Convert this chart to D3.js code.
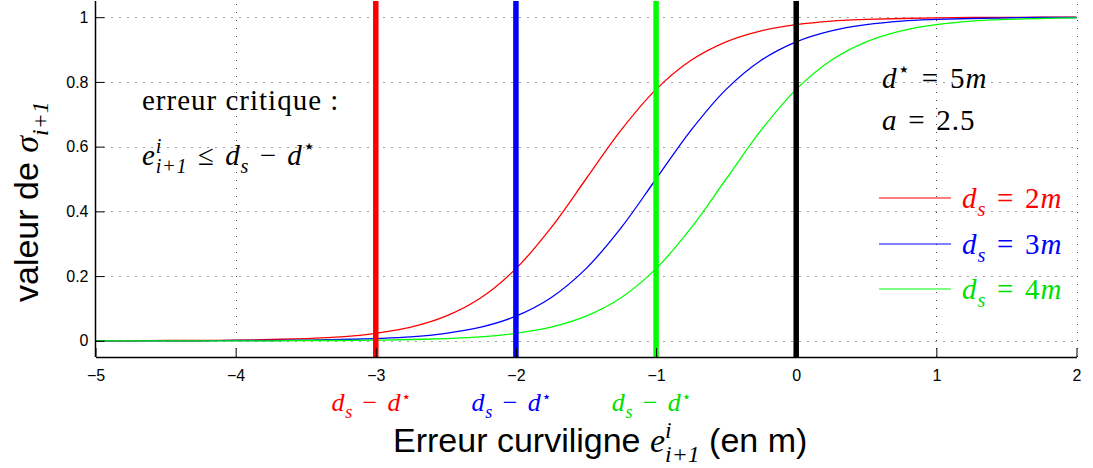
<!DOCTYPE html>
<html>
<head>
<meta charset="utf-8">
<script src="https://cdn.jsdelivr.net/npm/d3@7"></script>
<style>
  body { margin: 0; background: #fff; }
  svg { display: block; }
</style>
</head>
<body>
<div class="chart"></div>
<script>
const FRAME_WIDTH = 1093;
const FRAME_HEIGHT = 468;
const PLOT = {left: 95.5, right: 1076.5, top: 1, bottom: 357};

// abscisses (pas de 0.25 m)
const xs = [-5, -4.75, -4.5, -4.25, -4, -3.75, -3.5, -3.25, -3, -2.75, -2.5, -2.25,
            -2, -1.75, -1.5, -1.25, -1, -0.75, -0.5, -0.25, 0, 0.25, 0.5, 0.75,
            1, 1.25, 1.5, 1.75, 2];

// valeurs de sigma lues pour chaque d_s
const sigma2m = [0.000, 0.000, 0.001, 0.001, 0.002, 0.004, 0.007, 0.012, 0.023, 0.042,
                 0.076, 0.133, 0.223, 0.349, 0.500, 0.651, 0.777, 0.867, 0.924, 0.958,
                 0.977, 0.988, 0.993, 0.996, 0.998, 0.999, 0.999, 1.000, 1.000];
const sigma3m = [0.000, 0.000, 0.000, 0.000, 0.001, 0.001, 0.002, 0.004, 0.007, 0.012,
                 0.023, 0.042, 0.076, 0.133, 0.223, 0.349, 0.500, 0.651, 0.777, 0.867,
                 0.924, 0.958, 0.977, 0.988, 0.993, 0.996, 0.998, 0.999, 0.999];
const sigma4m = [0.000, 0.000, 0.000, 0.000, 0.000, 0.000, 0.001, 0.001, 0.002, 0.004,
                 0.007, 0.012, 0.023, 0.042, 0.076, 0.133, 0.223, 0.349, 0.500, 0.651,
                 0.777, 0.867, 0.924, 0.958, 0.977, 0.988, 0.993, 0.996, 0.998];

const seriesNames = ["2m", "3m", "4m"];
const seriesColors = ["#ff0000", "#0000ff", "#00ff00"];
const textColors = ["#ff0000", "#0000ff", "#00e000"];

// seuils d_s - d* et origine
const thresholds = [-3, -2, -1, 0];
const thresholdColors = ["#ff0000", "#0000ff", "#00ff00", "#000000"];

const xTicks = [-5, -4, -3, -2, -1, 0, 1, 2];
const yTicks = [0, 0.2, 0.4, 0.6, 0.8, 1];

const SERIF = "'Liberation Serif', 'DejaVu Serif', serif";
const SANS = "'Liberation Sans', Arial, sans-serif";
const STAR = "'DejaVu Sans', sans-serif";
const SP = "\u2004";   // espace autour des relations

const svg = d3.select(".chart")
              .append("svg")
              .attr("width", FRAME_WIDTH)
              .attr("height", FRAME_HEIGHT);

svg.append("rect")
   .attr("width", FRAME_WIDTH)
   .attr("height", FRAME_HEIGHT)
   .attr("fill", "#fff");

const X_SCALE = d3.scaleLinear().domain([-5, 2]).range([PLOT.left, PLOT.right]);
const Y_SCALE = d3.scaleLinear().domain([-0.05, 1.05]).range([PLOT.bottom, PLOT.top]);

// grille pointillee
const grid = svg.append("g")
                .attr("stroke", "#444")
                .attr("stroke-width", 1)
                .attr("stroke-dasharray", "1,7");

grid.selectAll(".vgrid")
    .data(xTicks.slice(1))
    .enter()
    .append("line")
      .attr("x1", d => Math.round(X_SCALE(d)) + 0.5)
      .attr("x2", d => Math.round(X_SCALE(d)) + 0.5)
      .attr("y1", PLOT.bottom)
      .attr("y2", PLOT.top);

grid.selectAll(".hgrid")
    .data(yTicks)
    .enter()
    .append("line")
      .attr("x1", PLOT.left)
      .attr("x2", PLOT.right)
      .attr("y1", d => Math.round(Y_SCALE(d)) + 0.5)
      .attr("y2", d => Math.round(Y_SCALE(d)) + 0.5);

// courbes
const line = d3.line()
               .x(d => X_SCALE(d[0]))
               .y(d => Y_SCALE(d[1]))
               .curve(d3.curveCatmullRom);

[sigma2m, sigma3m, sigma4m].forEach((vals, i) => {
    svg.append("path")
       .datum(xs.map((x, j) => [x, vals[j]]))
       .attr("d", line)
       .attr("fill", "none")
       .attr("stroke", seriesColors[i])
       .attr("stroke-width", 1.3);
});

// traits verticaux epais
svg.selectAll(".seuil")
   .data(thresholds)
   .enter()
   .append("line")
     .attr("x1", d => X_SCALE(d))
     .attr("x2", d => X_SCALE(d))
     .attr("y1", PLOT.top)
     .attr("y2", PLOT.bottom)
     .attr("stroke", (d, i) => thresholdColors[i])
     .attr("stroke-width", 5.5);

// axes
const xAxis = svg.append("g")
    .attr("transform", "translate(0," + PLOT.bottom + ")")
    .call(d3.axisBottom(X_SCALE).tickValues(xTicks).tickSizeInner(-9).tickSizeOuter(0)
          .tickPadding(13).tickFormat(d3.format("d")));

const yAxis = svg.append("g")
    .attr("transform", "translate(" + PLOT.left + ",0)")
    .call(d3.axisLeft(Y_SCALE).tickValues(yTicks).tickSizeInner(-9).tickSizeOuter(0)
          .tickPadding(7).tickFormat(d3.format("~g")));

[xAxis, yAxis].forEach(ax => {
    ax.attr("font-family", SANS).attr("font-size", 16);
    ax.selectAll("text").attr("fill", "#000");
    ax.selectAll("line").attr("stroke", "#000");
    ax.select(".domain").attr("stroke", "#000").attr("stroke-width", 1.5);
});
yAxis.select(".domain").attr("d", "M0," + PLOT.top + "V" + PLOT.bottom);

// texte mathematique : morceaux {t, it, pos (1 exposant, -1 indice, 2 petite etoile), back, f}
function mathText(parent, x, y, size, color, pieces, anchor, spacing) {
    const txt = parent.append("text")
                      .attr("x", x)
                      .attr("y", y)
                      .attr("fill", color)
                      .attr("font-size", size)
                      .attr("font-family", SERIF)
                      .attr("letter-spacing", spacing || 0)
                      .attr("text-anchor", anchor || "start");
    let shift = 0;
    let lastLen = 0;
    pieces.forEach(p => {
        const pos = p.pos || 0;
        const target = pos === 1 ? -0.42 * size
                     : pos === 2 ? -0.36 * size
                     : pos === -1 ? 0.28 * size : 0;
        const fs = pos === 0 ? size : (pos === 2 ? size * 0.62 : size * 0.7);
        const ts = txt.append("tspan")
                      .attr("dy", target - shift)
                      .attr("font-size", fs)
                      .attr("font-style", p.it ? "italic" : "normal")
                      .text(p.t);
        if (p.f) ts.attr("font-family", p.f);
        if (p.back) ts.attr("dx", -lastLen);
        shift = target;
        lastLen = ts.node().getComputedTextLength();
    });
    return txt;
}

const dStar = [{t: "d", it: true}, {t: "\u22C6", pos: 1, f: STAR}];
const dStarLow = [{t: "d", it: true}, {t: "\u22C6", pos: 2, f: STAR}];
const dsMinus = [{t: "d", it: true}, {t: "s", it: true, pos: -1},
                 {t: SP + "\u2212" + SP}];

thresholds.slice(0, 3).forEach((v, i) => {
    mathText(svg, X_SCALE(v) - 4, 411, 26, textColors[i], dsMinus.concat(dStarLow), "middle", 0.8);
});

// titres des axes
mathText(svg, 393, 452, 34, "#000", [
    {t: "Erreur curviligne ", f: SANS},
    {t: "e", it: true},
    {t: "i", it: true, pos: 1},
    {t: "i+1", it: true, pos: -1, back: true},
    {t: " (en m)", f: SANS}
], "start");

const yLab = svg.append("g")
                .attr("transform", "translate(38,302) rotate(-90)");
mathText(yLab, 0, 0, 34, "#000", [
    {t: "valeur de ", f: SANS},
    {t: "\u03C3", it: true},
    {t: "i+1", it: true, pos: -1}
], "start");

// annotations
mathText(svg, 142, 110, 29, "#000", [{t: "erreur critique :"}], "start", 1);
mathText(svg, 142, 165, 29, "#000", [
    {t: "e", it: true},
    {t: "i", it: true, pos: 1},
    {t: "i+1", it: true, pos: -1, back: true},
    {t: SP + "\u2264" + SP}
].concat(dsMinus, dStar), "start", 0.8);

mathText(svg, 882, 88, 29, "#000",
    dStar.concat([{t: SP + "=" + SP + "5"}, {t: "m", it: true}]), "start", 1);
mathText(svg, 882, 130, 29, "#000", [{t: "a", it: true}, {t: SP + "=" + SP + "2.5"}], "start", 1);

// legende
const legendY = [198, 244, 289];
seriesNames.forEach((name, i) => {
    svg.append("line")
       .attr("x1", 879)
       .attr("x2", 951)
       .attr("y1", legendY[i])
       .attr("y2", legendY[i])
       .attr("stroke", seriesColors[i])
       .attr("stroke-width", 1.2);
    mathText(svg, 962, legendY[i] + 10, 29, textColors[i], [
        {t: "d", it: true}, {t: "s", it: true, pos: -1},
        {t: SP + "=" + SP + name.slice(0, -1)}, {t: "m", it: true}
    ], "start", 1);
});
</script>
</body>
</html>
